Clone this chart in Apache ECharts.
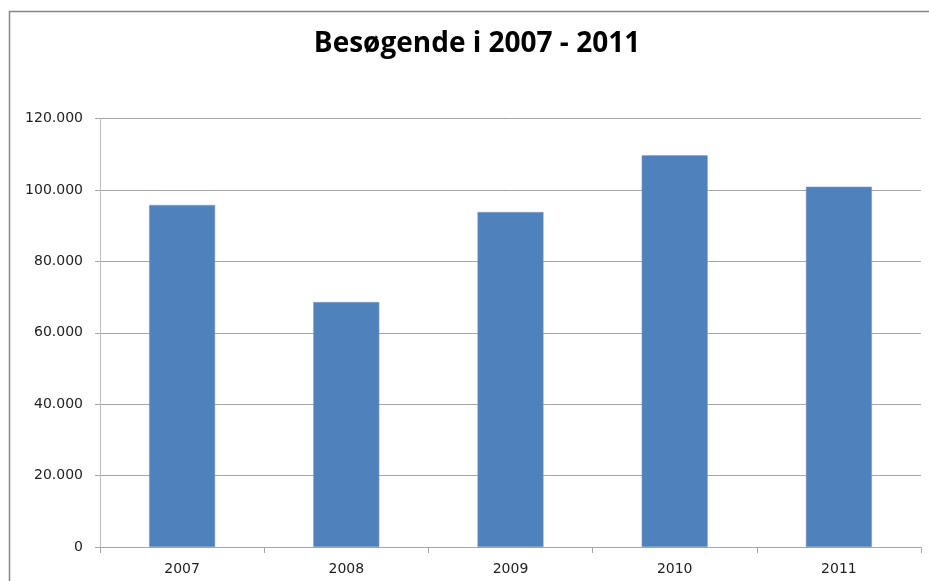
<!DOCTYPE html>
<html>
<head>
<meta charset="utf-8">
<script src="https://cdn.jsdelivr.net/npm/echarts@6/dist/echarts.min.js"></script>
<style>
  html, body { margin: 0; padding: 0; background: #fff; }
  #main { width: 929px; height: 581px; }
</style>
</head>
<body>
<div id="main"></div>
<script>
var years = ['2007', '2008', '2009', '2010', '2011'];
var visitors = [95800, 68600, 93800, 109700, 100900];

function fmt(v) {
    // 120000 -> 120.000
    return String(v).replace(/\B(?=(\d{3})+(?!\d))/g, '.');
}

var myChart = echarts.init(document.getElementById('main'));
var option = {
    animation: false,
    backgroundColor: '#ffffff',
    title: {
        text: 'Besøgende i 2007 - 2011',
        left: 472,
        top: 25,
        textAlign: 'center',
        textStyle: {
            fontFamily: 'Open Sans',
            fontWeight: 'bold',
            fontSize: 28,
            color: '#000'
        }
    },
    graphic: [
        {
            type: 'rect',
            shape: { x: 9.5, y: 11.5, width: 1200, height: 1000 },
            style: { fill: 'none', stroke: '#868686', lineWidth: 1.5 },
            silent: true
        }
    ],
    grid: { left: 100, right: 8, top: 118.5, bottom: 34 },
    xAxis: {
        type: 'category',
        data: years,
        axisLine: { lineStyle: { color: '#a6a6a6', width: 1 } },
        axisTick: { show: true, alignWithLabel: false, length: 6, lineStyle: { color: '#a6a6a6' } },
        axisLabel: { margin: 15, fontFamily: 'DejaVu Sans', fontSize: 14, color: '#222' }
    },
    yAxis: {
        type: 'value',
        min: 0,
        max: 120000,
        interval: 20000,
        axisLine: { show: true, lineStyle: { color: '#c0c0c0', width: 1 } },
        axisTick: { show: true, length: 5, lineStyle: { color: '#a6a6a6' } },
        axisLabel: { margin: 17, fontFamily: 'DejaVu Sans', fontSize: 14, color: '#222', formatter: fmt },
        splitLine: { lineStyle: { color: '#a6a6a6', width: 1 } }
    },
    series: [
        {
            type: 'bar',
            data: visitors,
            barWidth: 66,
            itemStyle: { color: '#4f81bd', borderColor: '#7a9fcf', borderWidth: 0.5 }
        }
    ]
};
myChart.setOption(option);
</script>
</body>
</html>
